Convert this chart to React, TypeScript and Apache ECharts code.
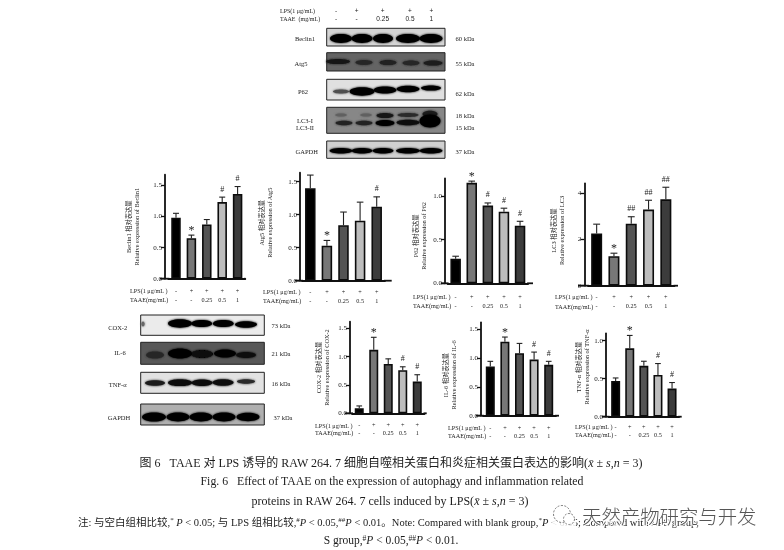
import React, { useEffect, useRef } from "react";
import * as echarts from "echarts";

// ---------- data ----------
const categories = ["-\n-", "+\n-", "+\n0.25", "+\n0.5", "+\n1"];
const barShades = ["#000000", "#777777", "#545454", "#bdbdbd", "#3c3c3c"];

const beclinMeans = [0.98, 0.65, 0.87, 1.23, 1.36];
const beclinTops = [1.05, 0.7, 0.95, 1.31, 1.48];
const beclinMarks = ["", "*", "", "#", "#"];

const atg5Means = [1.4, 0.53, 0.84, 0.91, 1.12];
const atg5Tops = [1.6, 0.61, 1.04, 1.19, 1.27];
const atg5Marks = ["", "*", "", "", "#"];

const p62Means = [0.28, 1.15, 0.89, 0.82, 0.66];
const p62Tops = [0.31, 1.17, 0.92, 0.86, 0.71];
const p62Marks = ["", "*", "#", "#", "#"];

const lc3Means = [2.25, 1.27, 2.67, 3.28, 3.72];
const lc3Tops = [2.65, 1.4, 2.97, 3.68, 4.24];
const lc3Marks = ["", "*", "##", "##", "##"];

const coxMeans = [0.09, 1.12, 0.87, 0.76, 0.56];
const coxTops = [0.13, 1.34, 0.96, 0.82, 0.68];
const coxMarks = ["", "*", "", "#", "#"];

const il6Means = [0.85, 1.28, 1.08, 0.97, 0.88];
const il6Tops = [0.94, 1.36, 1.25, 1.1, 0.94];
const il6Marks = ["", "*", "", "#", "#"];

const tnfMeans = [0.47, 0.9, 0.67, 0.55, 0.37];
const tnfTops = [0.51, 1.07, 0.73, 0.7, 0.45];
const tnfMarks = ["", "*", "", "#", "#"];

const ticks15 = [0, 0.5, 1, 1.5];
const ticks10 = [0, 0.5, 1];
const ticksLc3 = [0, 2, 4];

const SERIF = '"Liberation Serif","Noto Sans CJK SC",serif';
const INK = "#1c1c1c";

// ---------- panel layout ----------
const panels = [
  { title: "Beclin1 相对表达量\nRelative expression of Beclin1", means: beclinMeans, tops: beclinTops, marks: beclinMarks, ticks: ticks15, axisX: 165, stubL: 160, stubR: 245.4, left: 168.3, step: 15.4, bar: 10, y0: 278.7, yTop: 174.7, max: 1.67, rowY: 290.7, rowGap: 8.6, rowX: 130, gap: 25, shift: 0 },
  { title: "Atg5 相对表达量\nRelative expression of Atg5", means: atg5Means, tops: atg5Tops, marks: atg5Marks, ticks: ticks15, axisX: 300, stubL: 295, stubR: 391.7, left: 302, step: 16.6, bar: 11, y0: 280.7, yTop: 172.7, max: 1.636, rowY: 291.7, rowGap: 9, rowX: 263, gap: 27, shift: 4 },
  { title: "P62 相对表达量\nRelative expression of P62", means: p62Means, tops: p62Tops, marks: p62Marks, ticks: ticks10, axisX: 445, stubL: 440.7, stubR: 533, left: 447.6, step: 16.1, bar: 11, y0: 283.3, yTop: 178.5, max: 1.2, rowY: 296.7, rowGap: 9, rowX: 413, gap: 18, shift: -5 },
  { title: "LC3 相对表达量\nRelative expression of LC3", means: lc3Means, tops: lc3Tops, marks: lc3Marks, ticks: ticksLc3, axisX: 584.3, stubL: 578, stubR: 678, left: 588, step: 17.3, bar: 11.5, y0: 285.7, yTop: 183.3, max: 4.41, rowY: 296.7, rowGap: 9.3, rowX: 555, gap: 19, shift: 4 },
  { title: "COX-2 相对表达量\nRelative expression of COX-2", means: coxMeans, tops: coxTops, marks: coxMarks, ticks: ticks15, axisX: 350, stubL: 345, stubR: 426.7, left: 352, step: 14.5, bar: 9.5, y0: 413.3, yTop: 321.7, max: 1.615, rowY: 425, rowGap: 7.7, rowX: 315, gap: 20, shift: 0 },
  { title: "IL-6 相对表达量\nRelative expression of IL-6", means: il6Means, tops: il6Tops, marks: il6Marks, ticks: ticks15, axisX: 481, stubL: 476, stubR: 559, left: 483, step: 14.6, bar: 9.5, y0: 415.7, yTop: 322.3, max: 1.615, rowY: 427.3, rowGap: 8, rowX: 448, gap: 24, shift: -6 },
  { title: "TNF-α 相对表达量\nRelative expression of TNF-α", means: tnfMeans, tops: tnfTops, marks: tnfMarks, ticks: ticks10, axisX: 606, stubL: 601.7, stubR: 681.7, left: 608.6, step: 14.1, bar: 9.5, y0: 416.7, yTop: 333.3, max: 1.098, rowY: 426.7, rowGap: 8, rowX: 575, gap: 11, shift: 8 },
];

// ---------- western-blot panels (pictures, not chart data) ----------
type Band = [number, number, number, number, string];
const lanesTop = (y: number, ry: number, color: string, rx: number[]): Band[] =>
  [341, 362, 383, 408, 431].map((x, i) => [x, y, rx[i], ry, color] as Band);

const blots: { frame: number[]; bg: string; bands: Band[] }[] = [
  { frame: [326.7, 28.3, 118.3, 17.7], bg: "#d4d4d4", bands: lanesTop(38.5, 4.4, "#050505", [11, 10.5, 10, 12, 11.5]) },
  { frame: [326.7, 52.7, 118.3, 18.3], bg: "#646464", bands: [[338, 61.5, 12, 2.6, "#141414"], [364, 62.5, 8.5, 2.4, "#262626"], [388, 62.5, 8.5, 2.6, "#202020"], [411, 63, 8.5, 2.4, "#262626"], [433, 63, 9.5, 2.6, "#1c1c1c"]] },
  { frame: [326.7, 79.3, 118.3, 20.7], bg: "#e0e0e0", bands: [[341, 91.5, 8, 2, "#505050"], [362, 91.5, 12.5, 4.2, "#030303"], [385, 90, 11.5, 3.6, "#030303"], [408, 89, 11.5, 3.2, "#030303"], [431, 88, 10, 2.6, "#060606"]] },
  { frame: [326.7, 107.3, 118.3, 26], bg: "#878787", bands: [[341, 115, 6, 1.5, "#606060"], [366, 115, 6, 1.5, "#606060"], [385, 115.5, 8.5, 2.6, "#141414"], [408, 115, 10.5, 2, "#2c2c2c"], [430, 114, 7.5, 3.2, "#1c1c1c"], [344, 123, 8.5, 2.2, "#222222"], [364, 123, 8.5, 2.2, "#222222"], [385, 123, 9.5, 3, "#060606"], [408, 122.5, 11.5, 2.8, "#0c0c0c"], [430, 121, 10.5, 6.5, "#000000"]] },
  { frame: [326.7, 141, 118.3, 17.3], bg: "#d0d0d0", bands: lanesTop(150.7, 2.8, "#060606", [11.5, 10.5, 10.5, 12, 11.5]) },
  { frame: [140.7, 315, 123.6, 20.3], bg: "#ebebeb", bands: [[143, 324, 1.6, 2.5, "#666666"], [180, 323.5, 12, 4.2, "#000000"], [201.7, 323.5, 10.5, 3.6, "#030303"], [223.3, 323.5, 10.5, 3.6, "#030303"], [246, 324.5, 11, 3.2, "#030303"]] },
  { frame: [140.7, 342.3, 123.6, 22], bg: "#585858", bands: [[155, 355, 9, 3.6, "#282828"], [180, 353.5, 12, 5, "#030303"], [202, 354, 11, 4, "#070707"], [225, 353.5, 11, 4, "#050505"], [246, 355, 10, 3, "#101010"]] },
  { frame: [140.7, 372.3, 123.6, 21], bg: "#e2e2e2", bands: [[155, 383, 10, 2.8, "#1c1c1c"], [180, 382.7, 12, 3.4, "#080808"], [202, 382.7, 10.5, 3.2, "#0c0c0c"], [223, 382.5, 10.5, 3.2, "#0c0c0c"], [246, 381.5, 9, 2.2, "#2a2a2a"]] },
  { frame: [140.7, 404, 123.6, 21], bg: "#b0b0b0", bands: [[154, 417, 12, 4.6, "#030303"], [178, 417, 11.5, 4.4, "#030303"], [201, 417, 11.5, 4.4, "#030303"], [224, 417, 11.5, 4.4, "#030303"], [248, 417, 11.5, 4.2, "#030303"]] },
];

const blotLabels: [string, number, number][] = [
  ["Beclin1", 305, 38], ["Atg5", 301, 63], ["P62", 303, 91], ["LC3-I", 305, 120], ["LC3-II", 305, 127], ["GAPDH", 306.7, 151],
  ["60 kDa", 465, 38], ["55 kDa", 465, 63], ["62 kDa", 465, 93], ["18 kDa", 465, 115], ["15 kDa", 465, 127], ["37 kDa", 465, 151],
  ["COX-2", 117.7, 327], ["IL-6", 120, 352.7], ["TNF-α", 117.7, 384], ["GAPDH", 119, 417],
  ["73 kDa", 281, 325], ["21 kDa", 281, 353], ["16 kDa", 281, 383], ["37 kDa", 283, 417],
];

const headerLps = ["-", "+", "+", "+", "+"];
const headerTaae = ["-", "-", "0.25", "0.5", "1"];
const headerX = [336, 356.7, 382.7, 410, 431.3];

function textEl(text: string, x: number, y: number, size: number, extra: any = {}) {
  return {
    type: "text", x, y, silent: true, z: 20,
    style: { text, fontSize: size, fontFamily: SERIF, fill: INK, align: "center", verticalAlign: "middle", ...extra },
  };
}

const capRich = {
  i: { fontFamily: SERIF, fontStyle: "italic", fontSize: 12, fill: INK },
};
const noteRich = {
  j: { fontFamily: SERIF, fontStyle: "italic", fontSize: 10.5, fill: INK },
  u: { fontFamily: SERIF, fontSize: 7, fill: INK, padding: [0, 0, 4, 0] },
};
const tailRich = {
  j: { fontFamily: SERIF, fontStyle: "italic", fontSize: 11.5, fill: INK },
  u: { fontFamily: SERIF, fontSize: 7.5, fill: INK, padding: [0, 0, 4, 0] },
};

function buildGraphic() {
  const els: any[] = [];
  blots.forEach((b) => {
    const [x, y, w, h] = b.frame;
    els.push({ type: "rect", silent: true, z: 5, shape: { x, y, width: w, height: h }, style: { fill: b.bg, stroke: "#222", lineWidth: 1 } });
    b.bands.forEach(([cx, cy, rx, ry, c]) =>
      els.push({ type: "ellipse", silent: true, z: 6, shape: { cx, cy, rx, ry }, style: { fill: c, shadowBlur: 2, shadowColor: c } })
    );
  });
  blotLabels.forEach(([t, x, y]) => els.push(textEl(t, x, y, 6.5)));
  els.push(textEl("LPS(1 μg/mL)", 280, 11, 6, { align: "left" }));
  els.push(textEl("TAAE  (mg/mL)", 280, 18.5, 6, { align: "left" }));
  headerX.forEach((x, i) => {
    els.push(textEl(headerLps[i], x, 10, 6.5, { fontFamily: '"Liberation Sans",sans-serif' }));
    els.push(textEl(headerTaae[i], x, 18, 6.5, { fontFamily: '"Liberation Sans",sans-serif' }));
  });
  panels.forEach((p) => {
    const right = p.left + p.step * 5;
    els.push({ type: "line", silent: true, z: 10, shape: { x1: p.stubL, y1: p.y0, x2: p.left + 1, y2: p.y0 }, style: { stroke: "#111", lineWidth: 1.8 } });
    if (p.stubR > right) els.push({ type: "line", silent: true, z: 10, shape: { x1: right - 1, y1: p.y0, x2: p.stubR, y2: p.y0 }, style: { stroke: "#111", lineWidth: 1.8 } });
    els.push(textEl("LPS(1 μg/mL )", p.rowX, p.rowY, 6.2, { align: "left" }));
    els.push(textEl("TAAE(mg/mL)", p.rowX, p.rowY + p.rowGap, 6.2, { align: "left" }));
  });
  // caption
  els.push(textEl("图 6   TAAE 对 LPS 诱导的 RAW 264. 7 细胞自噬相关蛋白和炎症相关蛋白表达的影响({i|x̄} ± {i|s},{i|n} = 3)", 391, 463, 12, { rich: capRich }));
  els.push(textEl("Fig. 6   Effect of TAAE on the expression of autophagy and inflammation related", 392, 481, 11.8));
  els.push(textEl("proteins in RAW 264. 7 cells induced by LPS({i|x̄} ± {i|s},{i|n} = 3)", 390, 501, 12, { rich: capRich }));
  els.push(textEl("注: 与空白组相比较,{u|*} {j|P} < 0.05; 与 LPS 组相比较,{u|#}{j|P} < 0.05,{u|##}{j|P} < 0.01。Note: Compared with blank group,{u|*}{j|P} < 0.05; Compared with LPS group,", 78, 522, 10.5, { align: "left", rich: noteRich }));
  els.push(textEl("S group,{u|#}{j|P} < 0.05,{u|##}{j|P} < 0.01.", 391, 540, 11.5, { rich: tailRich }));
  // watermark
  els.push({ type: "rect", silent: true, z: 21, shape: { x: 552, y: 504, width: 24, height: 24 }, style: { fill: "rgba(255,255,255,0.85)" } });
  els.push({ type: "circle", silent: true, z: 22, shape: { cx: 562, cy: 514, r: 8.5 }, style: { fill: "#fff", stroke: "#777", lineWidth: 1, lineDash: [2, 1.5] } });
  els.push({ type: "circle", silent: true, z: 23, shape: { cx: 569, cy: 519, r: 5.5 }, style: { fill: "#fff", stroke: "#777", lineWidth: 1, lineDash: [2, 1.5] } });
  els.push({
    type: "text", silent: true, z: 24, x: 582, y: 515,
    style: { text: "天然产物研究与开发", fontSize: 19.4, fontFamily: '"Noto Sans CJK SC",sans-serif', fontWeight: 300, fill: "#555", stroke: "#fff", lineWidth: 2, align: "left", verticalAlign: "middle" },
  });
  return els;
}

function buildOption() {
  const grid: any[] = [], xAxis: any[] = [], yAxis: any[] = [], series: any[] = [];
  panels.forEach((p, i) => {
    grid.push({ left: p.left, width: p.step * 5, top: p.yTop, height: p.y0 - p.yTop });
    const fmt = (v: number) => (p.ticks === ticksLc3 ? String(v) : v.toFixed(1));
    xAxis.push({
      gridIndex: i, type: "category", data: categories,
      axisLine: { lineStyle: { color: "#111", width: 1.8 } },
      axisTick: { alignWithLabel: true, length: 4, lineStyle: { color: "#111", width: 1.3 } },
      axisLabel: {
        interval: 0, fontSize: 6.2, fontFamily: SERIF, color: INK,
        lineHeight: p.rowGap, margin: p.rowY - p.y0 - p.rowGap / 2,
      },
    });
    yAxis.push({
      gridIndex: i, type: "value", min: 0, max: p.max, splitLine: { show: false },
      offset: p.left - p.axisX,
      name: p.title, nameLocation: "middle", nameRotate: 90, nameGap: p.gap,
      nameTextStyle: {
        fontSize: 6.3, fontFamily: SERIF, color: INK, lineHeight: 8, align: "center",
        padding: p.shift > 0 ? [0, 0, 0, p.shift * 2] : [0, -p.shift * 2, 0, 0],
      },
      axisLine: { show: true, lineStyle: { color: "#111", width: 1.8 } },
      axisTick: { show: true, length: 4, customValues: p.ticks, lineStyle: { color: "#111", width: 1.3 } },
      axisLabel: { customValues: p.ticks, formatter: fmt, fontSize: 7, fontFamily: SERIF, color: INK, margin: 3 },
    });
    series.push({
      type: "bar", xAxisIndex: i, yAxisIndex: i, data: p.means, barWidth: p.bar - 0.5,
      itemStyle: { color: (d: any) => barShades[d.dataIndex], borderColor: "#0c0c0c", borderWidth: 1.6 },
      silent: true,
    });
    series.push({
      type: "custom", xAxisIndex: i, yAxisIndex: i, silent: true, clip: false, z: 3,
      data: p.means.map((m, k) => [k, m, p.tops[k]]),
      encode: { x: 0, y: [1, 2] },
      renderItem: (params: any, api: any) => {
        const k = api.value(0);
        const a = api.coord([k, api.value(1)]);
        const b = api.coord([k, api.value(2)]);
        const stroke = { stroke: "#222", lineWidth: 1.1 };
        const mark = p.marks[params.dataIndex];
        return {
          type: "group",
          children: [
            { type: "line", shape: { x1: a[0], y1: a[1], x2: b[0], y2: b[1] }, style: stroke },
            { type: "line", shape: { x1: b[0] - p.bar * 0.3, y1: b[1], x2: b[0] + p.bar * 0.3, y2: b[1] }, style: stroke },
            ...(mark
              ? [{ type: "text", x: b[0], y: mark === "*" ? b[1] - 5 : b[1] - 8, style: { text: mark, fontSize: mark === "*" ? 12 : 8, fontFamily: SERIF, fill: "#222", align: "center", verticalAlign: "middle" } }]
              : []),
          ],
        };
      },
    });
  });
  return { animation: false, backgroundColor: "#fff", grid, xAxis, yAxis, series, graphic: { elements: buildGraphic() } };
}

export default function App() {
  const ref = useRef<HTMLDivElement>(null);
  useEffect(() => {
    const chart = echarts.init(ref.current!, undefined, { renderer: "svg" });
    chart.setOption(buildOption() as any);
    return () => chart.dispose();
  }, []);
  return <div ref={ref} style={{ position: "absolute", left: 0, top: 0, width: 784, height: 550, filter: "blur(0.35px)" }} />;
}
